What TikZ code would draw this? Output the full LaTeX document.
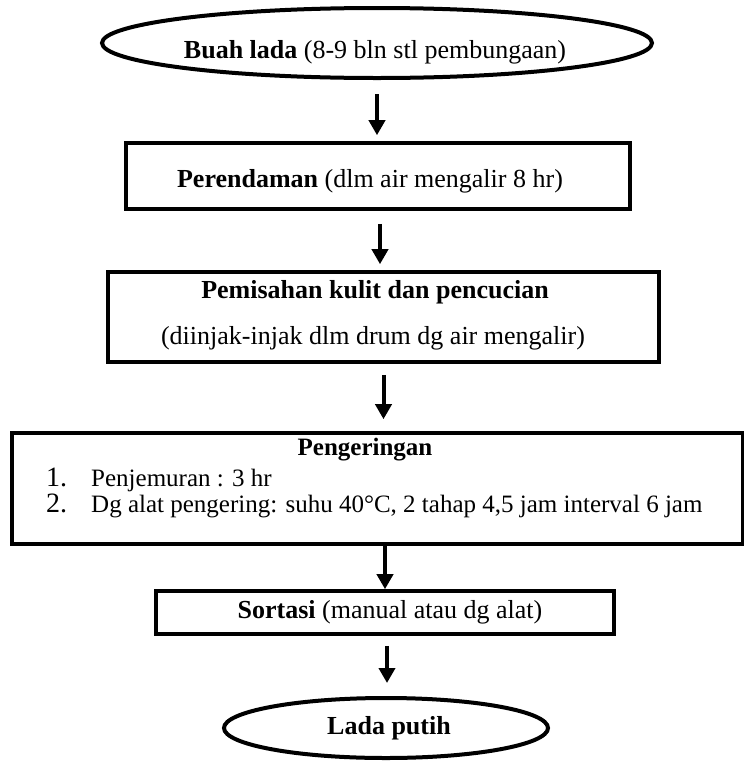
\documentclass[tikz,border=0pt]{standalone}
\usepackage{fontspec}
\setmainfont{Liberation Serif}
\usetikzlibrary{shapes.geometric,arrows.meta}

\tikzset{
  kotak/.style={draw, line width=3.6pt, inner sep=0pt},
  oval/.style={draw, ellipse, line width=4pt, inner sep=0pt},
  panah/.style={line width=4pt, -{Triangle[width=16pt,length=15pt]}},
  teks/.style={anchor=base, inner sep=0pt, font=\fontsize{26}{30}\selectfont},
  butir/.style={anchor=base west, inner sep=0pt, font=\fontsize{25}{30}\selectfont},
  nomor/.style={anchor=base west, inner sep=0pt, font=\fontsize{28}{30}\selectfont},
}

\begin{document}
\begin{tikzpicture}[x=1pt,y=-1pt]
    \useasboundingbox (0,0) rectangle (744,761);
    % Awal dan akhir
    \node[oval, minimum width=550pt, minimum height=70pt] (buah) at (377,43) {};
    \node[teks] (buahteks) at (375,58) {\textbf{Buah lada} (8-9 bln stl pembungaan)};
    \node[oval, minimum width=324pt, minimum height=60pt] (lada) at (386,728) {};
    \node[teks] (ladateks) at (389,734) {\textbf{Lada putih}};

    % Tahapan proses
    \node[kotak, minimum width=504pt, minimum height=66pt] (rendam) at (378,176) {};
    \node[teks] (rendamteks) at (370,187) {\textbf{Perendaman} (dlm air mengalir 8 hr)};
    \node[kotak, minimum width=551pt, minimum height=90pt] (pisah) at (383.5,317) {};
    \node[teks] (pisahjudul) at (375,298) {\textbf{Pemisahan kulit dan pencucian}};
    \node[teks] (pisahket) at (373,344) {(diinjak-injak dlm drum dg air mengalir)};
    \node[kotak, minimum width=731pt, minimum height=111pt] (kering) at (377.5,488.5) {};
    \node[teks, font=\fontsize{25}{30}\selectfont] (keringjudul) at (365,455) {\textbf{Pengeringan}};
    \node[nomor] (no1) at (46,486) {1.};
    \node[butir] (cara1) at (91,486) {Penjemuran : 3 hr};
    \node[nomor] (no2) at (46,512) {2.};
    \node[butir] (cara2) at (91,512)
        {Dg alat pengering: suhu 40°C, 2 tahap 4,5 jam interval 6 jam};
    \node[kotak, minimum width=458pt, minimum height=43pt] (sortasi) at (385,612.5) {};
    \node[teks] (sortasiteks) at (390,618) {\textbf{Sortasi} (manual atau dg alat)};

    % Panah
    \draw[panah, shorten <=14pt, shorten >=6pt] (buah.south) -- (buah.south |- rendam.north);
    \draw[panah, shorten <=13pt, shorten >=6pt] ([xshift=2pt]rendam.south) -- ([xshift=-3.5pt]pisah.north);
    \draw[panah, shorten <=11pt, shorten >=12pt] (pisah.south) -- (pisah.south |- kering.north);
    \draw[panah] (sortasi.north |- kering.south) -- (sortasi.north);
    \draw[panah, shorten <=10pt, shorten >=13pt] ([xshift=2pt]sortasi.south) -- ([xshift=1pt]lada.north);
\end{tikzpicture}
\end{document}
